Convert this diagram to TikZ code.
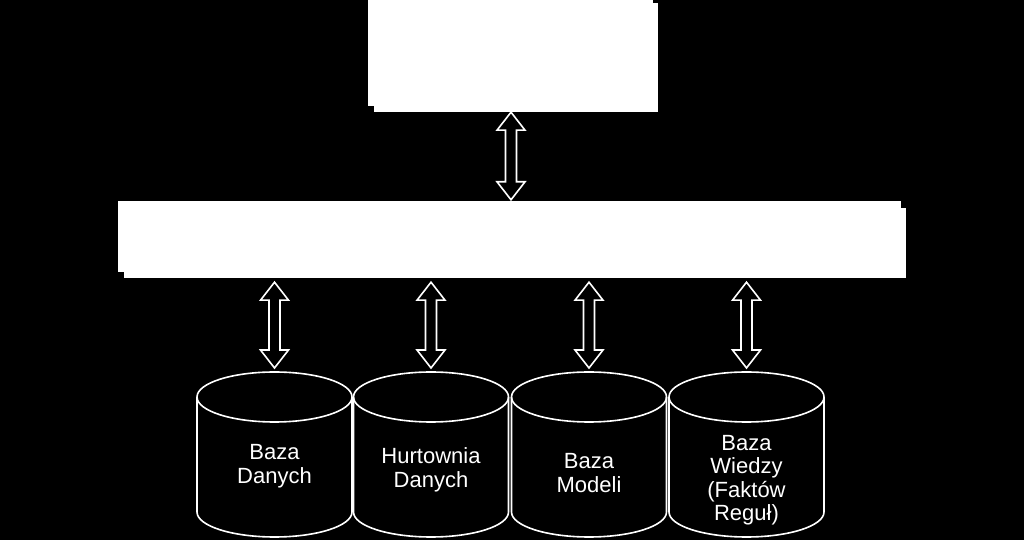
\documentclass[tikz,border=0pt]{standalone}
\usepackage{fontspec}
\setmainfont{Liberation Sans}
\usetikzlibrary{shadows,calc}
\tikzset{
  whitebox/.style={rectangle, fill=white, draw=none,
    copy shadow={shadow xshift=5pt, shadow yshift=-6pt}, inner sep=0pt},
  barrow/.style={draw=white, line width=1.6pt, fill=black, line join=miter},
  cylline/.style={draw=white, line width=1.6pt, fill=black},
  lbl/.style={text=white, align=center, font=\fontsize{22}{23.5}\selectfont, inner sep=0pt}
}
\newcommand{\dblarrow}[2]{%
  \path[barrow] let \p1=(#1), \p2=(#2) in
    (\x1,\y1) -- (\x1+14pt,\y1-18pt) -- (\x1+5.5pt,\y1-18pt) -- (\x1+5.5pt,\y2+18pt)
    -- (\x1+14pt,\y2+18pt) -- (\x1,\y2) -- (\x1-14pt,\y2+18pt) -- (\x1-5.5pt,\y2+18pt)
    -- (\x1-5.5pt,\y1-18pt) -- (\x1-14pt,\y1-18pt) -- cycle;}
\newcommand{\cylfig}[1]{%
  \path[cylline] let \p1=(#1) in
    (\x1-77.5pt,\y1-25pt) -- (\x1-77.5pt,28pt)
    arc[start angle=180, end angle=360, x radius=77.5pt, y radius=25pt]
    -- (\x1+77.5pt,\y1-25pt)
    arc[start angle=0, end angle=180, x radius=77.5pt, y radius=25pt] -- cycle;
  \path[cylline, fill=none] let \p1=(#1) in
    (\x1-77.5pt,\y1-25pt) arc[start angle=180, end angle=360, x radius=77.5pt, y radius=25pt];}
\begin{document}
\begin{tikzpicture}[x=1pt,y=1pt]
\fill[black] (0,0) rectangle (1024,540);
\useasboundingbox (0,0) rectangle (1024,540);
\begin{scope}
\clip (0,0) rectangle (1024,540);
% boxes
\node[whitebox, minimum width=285pt, minimum height=110pt] (top) at (510.5,489) {};
\node[whitebox, minimum width=783pt, minimum height=71pt] (mid) at (509.5,303.5) {};
% cylinder tops
\coordinate (t1) at (274.5,168);
\coordinate (t2) at (431,168);
\coordinate (t3) at (589,168);
\coordinate (t4) at (746.5,168);
\cylfig{t1}
\cylfig{t2}
\cylfig{t3}
\cylfig{t4}
\node[lbl] (c1) at (274.5,74) {Baza\\Danych};
\node[lbl] (c2) at (431,70) {Hurtownia\\Danych};
\node[lbl] (c3) at (589,67) {Baza\\Modeli};
\node[lbl] (c4) at (746.5,60) {Baza\\Wiedzy\\(Faktów\\Reguł)};
% arrows
\coordinate (a0) at ($(top.south)+(0.5,-6)$);
\coordinate (b0) at ($(a0|-mid.north)+(0,1)$);
\dblarrow{a0}{b0}
\foreach \i in {1,2,3,4}{
  \coordinate (a\i) at ($(t\i|-mid.south)+(0,-10)$);
  \coordinate (b\i) at ($(t\i)+(0,4)$);
  \dblarrow{a\i}{b\i}
}
\end{scope}
\end{tikzpicture}
\end{document}
